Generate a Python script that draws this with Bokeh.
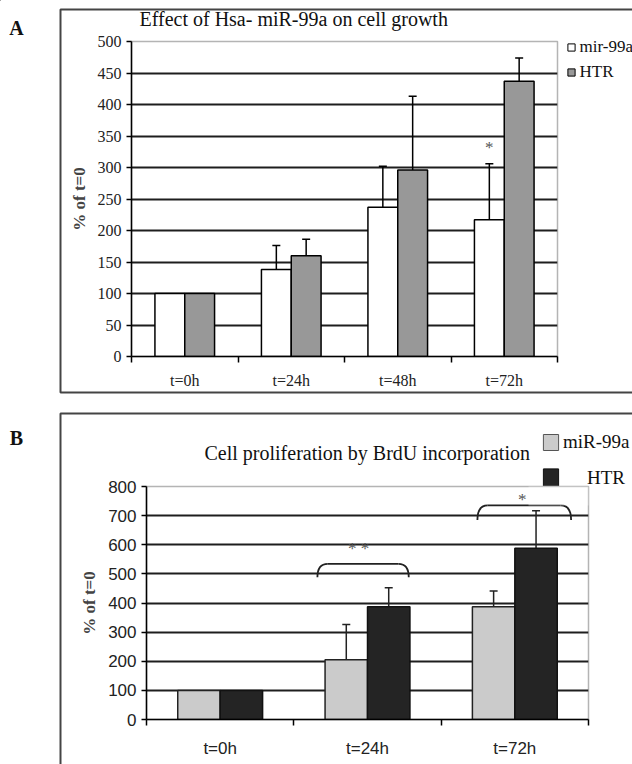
from bokeh.plotting import figure
from bokeh.models import (ColumnDataSource, FixedTicker, Whisker, TeeHead, BoxAnnotation,
                          Legend, LegendItem, Range1d, GridBox)
from bokeh.layouts import column
from bokeh.embed import file_html
from bokeh.resources import INLINE
from bokeh.core.properties import value

# ---------------- Panel A data ----------------
a_categories = ["t=0h", "t=24h", "t=48h", "t=72h"]
a_mir = [100, 138, 237, 217]
a_htr = [100, 160, 296, 437]
a_mir_err = [0, 38, 65, 89]
a_htr_err = [0, 26, 117, 37]
a_yticks = list(range(0, 501, 50))
a_title = "Effect of Hsa- miR-99a on cell growth"
a_series = ["mir-99a", "HTR"]
a_star_group = [3]
a_star_value = [332]

# ---------------- Panel B data ----------------
b_categories = ["t=0h", "t=24h", "t=72h"]
b_mir = [100, 205, 387]
b_htr = [100, 387, 588]
b_mir_err = [0, 121, 54]
b_htr_err = [0, 65, 129]
b_yticks = list(range(0, 801, 100))
b_title = "Cell proliferation by BrdU incorporation"
b_series = ["miR-99a", "HTR"]
# significance brackets (x in category units, y in % of t=0)
b_bracket_left = [1.16, 2.246]
b_bracket_right = [1.78, 2.882]
b_bracket_top = [534, 735]
b_bracket_bottom = [488, 685]
b_star_text = ["* *", "*"]
b_star_x = [1.44, 2.55]
b_star_y = [588, 756]

panel_letters = ["A", "B"]

SERIF = "Liberation Serif"
SANS = "Liberation Sans"
W, H = 632, 764
HA = 402
HB = H - HA


def err_source(xs, vals, errs):
    rows = [(x, v, v + e) for x, v, e in zip(xs, vals, errs) if e > 0]
    return ColumnDataSource(dict(x=[r[0] for r in rows],
                                 lower=[r[1] for r in rows],
                                 upper=[r[2] for r in rows]))


def style_axes(p, n, yticks, cats, tick_font, tick_size, xstandoff):
    p.yaxis.ticker = FixedTicker(ticks=yticks)
    p.yaxis.major_tick_out = 5
    p.yaxis.major_tick_in = 0
    p.yaxis.minor_tick_line_color = None
    p.yaxis.major_label_standoff = 5
    p.yaxis.major_label_text_font = tick_font
    p.yaxis.major_label_text_font_size = tick_size
    p.yaxis.major_label_text_color = "#222222"
    p.xaxis.ticker = FixedTicker(ticks=[i + 0.5 for i in range(n)],
                                 minor_ticks=list(range(n + 1)))
    p.xaxis.major_label_overrides = {i + 0.5: c for i, c in enumerate(cats)}
    p.xaxis.major_tick_out = 0
    p.xaxis.major_tick_in = 0
    p.xaxis.minor_tick_out = 6
    p.xaxis.minor_tick_in = 0
    p.xaxis.minor_tick_line_color = "black"
    p.xaxis.minor_tick_line_width = 1.5
    p.xaxis.major_label_standoff = xstandoff
    p.xaxis.major_label_text_font = tick_font
    p.xaxis.major_label_text_font_size = tick_size
    p.xaxis.major_label_text_color = "#222222"
    for ax in (p.xaxis, p.yaxis):
        ax.axis_line_color = "black"
        ax.axis_line_width = 1.5
        ax.major_tick_line_color = "black"
        ax.major_tick_line_width = 1.5
    p.yaxis.axis_label = "% of t=0"
    p.yaxis.axis_label_text_font = SERIF
    p.yaxis.axis_label_text_font_style = "bold"
    p.yaxis.axis_label_text_font_size = "17px"
    p.yaxis.axis_label_standoff = 6
    p.xgrid.visible = False
    p.ygrid.ticker = FixedTicker(ticks=yticks[1:-1])
    p.ygrid.grid_line_color = "#1e1e1e"
    p.ygrid.grid_line_width = 1.8
    p.outline_line_color = "#b4b4b4"
    p.outline_line_width = 1.5
    p.border_fill_color = None
    p.background_fill_color = "white"
    p.frame_align = False


# ================= Panel A =================
nA = len(a_categories)
bwA = 0.28
pA = figure(width=W, height=HA, x_range=Range1d(0, nA), y_range=Range1d(0, 500),
            output_backend="svg", toolbar_location=None, title=None,
            min_border_left=131, min_border_right=75, min_border_top=41, min_border_bottom=46)
xA1 = [i + 0.5 - bwA / 2 for i in range(nA)]
xA2 = [i + 0.5 + bwA / 2 for i in range(nA)]
pA.vbar(x=xA1, top=a_mir, width=bwA, fill_color="white", line_color="black", line_width=1.5)
pA.vbar(x=xA2, top=a_htr, width=bwA, fill_color="#989898", line_color="black", line_width=1.5)
for xs, vals, errs in ((xA1, a_mir, a_mir_err), (xA2, a_htr, a_htr_err)):
    pA.add_layout(Whisker(source=err_source(xs, vals, errs), base="x", lower="lower", upper="upper",
                          dimension="height", line_color="black", line_width=1.5, lower_head=None,
                          upper_head=TeeHead(size=8, line_color="black", line_width=1.5)))
pA.text(x=[xA1[g] for g in a_star_group], y=a_star_value, text=["*"] * len(a_star_group),
        text_font=value(SERIF), text_font_size="17px", text_align="center",
        text_baseline="middle", text_color="#555555")
style_axes(pA, nA, a_yticks, a_categories, SERIF, "16px", 9)

# ================= Panel B =================
nB = len(b_categories)
bwB = 0.288
pB = figure(width=W, height=HB, x_range=Range1d(0, nB), y_range=Range1d(0, 800),
            output_backend="svg", toolbar_location=None, title=None,
            min_border_left=146, min_border_right=44, min_border_top=84, min_border_bottom=45)
xB1 = [i + 0.5 - bwB / 2 for i in range(nB)]
xB2 = [i + 0.5 + bwB / 2 for i in range(nB)]
pB.vbar(x=xB1, top=b_mir, width=bwB, fill_color="#cbcbcb", line_color="#222222", line_width=1.5)
pB.vbar(x=xB2, top=b_htr, width=bwB, fill_color="#242424", line_color="#111111", line_width=1.5)
for xs, vals, errs in ((xB1, b_mir, b_mir_err), (xB2, b_htr, b_htr_err)):
    pB.add_layout(Whisker(source=err_source(xs, vals, errs), base="x", lower="lower", upper="upper",
                          dimension="height", line_color="#222222", line_width=1.5, lower_head=None,
                          upper_head=TeeHead(size=8, line_color="#222222", line_width=1.5)))
w = 0.07
br = ColumnDataSource(dict(l=b_bracket_left, r=b_bracket_right, t=b_bracket_top, b=b_bracket_bottom,
                           lw=[v + w for v in b_bracket_left], rw=[v - w for v in b_bracket_right]))
pB.quadratic(x0="l", y0="b", x1="lw", y1="t", cx="l", cy="t", source=br, line_color="#222222", line_width=1.8)
pB.quadratic(x0="rw", y0="t", x1="r", y1="b", cx="r", cy="t", source=br, line_color="#222222", line_width=1.8)
pB.segment(x0="lw", y0="t", x1="rw", y1="t", source=br, line_color="#222222", line_width=1.8)
pB.text(x=b_star_x, y=b_star_y, text=b_star_text, text_font=value(SERIF), text_font_size="17px",
        text_align="center", text_baseline="middle", text_color="#555555")
style_axes(pB, nB, b_yticks, b_categories, SANS, "17px", 13)
pB.add_layout(BoxAnnotation(left=528, right=600, top=78, bottom=103, left_units="canvas",
                            right_units="canvas", top_units="canvas", bottom_units="canvas",
                            fill_color="white", line_color=None, level="overlay"))

# ============ page layer: panel boxes, letters, titles, legends ============
bg = figure(width=W, height=H, x_range=Range1d(0, W), y_range=Range1d(H, 0),
            output_backend="svg", toolbar_location=None, title=None, min_border=0,
            x_axis_location=None, y_axis_location=None, outline_line_color=None)
bg.grid.visible = False
bg.frame_align = False
bg.quad(left=[60, 60], right=[W + 10, W + 10], top=[9, 413], bottom=[392, H + 20],
        fill_color=None, line_color="#444444", line_width=2)
bg.text(x=[16, 16], y=[27, 437], text=panel_letters, text_font=value(SERIF),
        text_font_size="20px", text_font_style="bold", text_align="center",
        text_baseline="middle", text_color="#111111")
bg.text(x=[139, 204], y=[18, 452], text=[a_title, b_title], text_font=value(SERIF),
        text_font_size="20px", text_align="left", text_baseline="middle", text_color="#111111")

# legend swatches: same styles as the bars they describe, kept off the page area
off = dict(x=[-100], y=[-100])
gA1 = bg.scatter(marker="square", fill_color="white", line_color="black", line_width=1, **off)
gA2 = bg.scatter(marker="square", fill_color="#989898", line_color="black", line_width=1, **off)
gB1 = bg.vbar(x=[-100], top=[-100], width=1, fill_color="#cbcbcb", line_color="#555555", line_width=1)
gB2 = bg.vbar(x=[-100], top=[-100], width=1, fill_color="#242424", line_color="#111111", line_width=1)

common = dict(padding=0, margin=0, border_line_color=None, background_fill_alpha=0,
              label_text_font=SERIF, label_text_color="#111111")
bg.add_layout(Legend(items=[LegendItem(label=a_series[0], renderers=[gA1]),
                            LegendItem(label=a_series[1], renderers=[gA2])],
                     location=(561.5, H - 35.5 - 47), glyph_width=18, glyph_height=22,
                     label_height=22, label_standoff=-3, spacing=3,
                     label_text_font_size="17px", **common))
bg.add_layout(Legend(items=[LegendItem(label=b_series[0], renderers=[gB1])],
                     location=(541, H - 431 - 22), glyph_width=19, glyph_height=20,
                     label_height=20, label_standoff=3, label_text_font_size="19px", **common))
bg.add_layout(Legend(items=[LegendItem(label=b_series[1], renderers=[gB2])],
                     location=(541, H - 466 - 24), glyph_width=19, glyph_height=24,
                     label_height=24, label_standoff=27, label_text_font_size="19px", **common))

charts = column(pA, pB, spacing=0)
page = GridBox(children=[(bg, 0, 0), (charts, 0, 0)], width=W, height=H)
open("out.html", "w").write(file_html(page, INLINE))
